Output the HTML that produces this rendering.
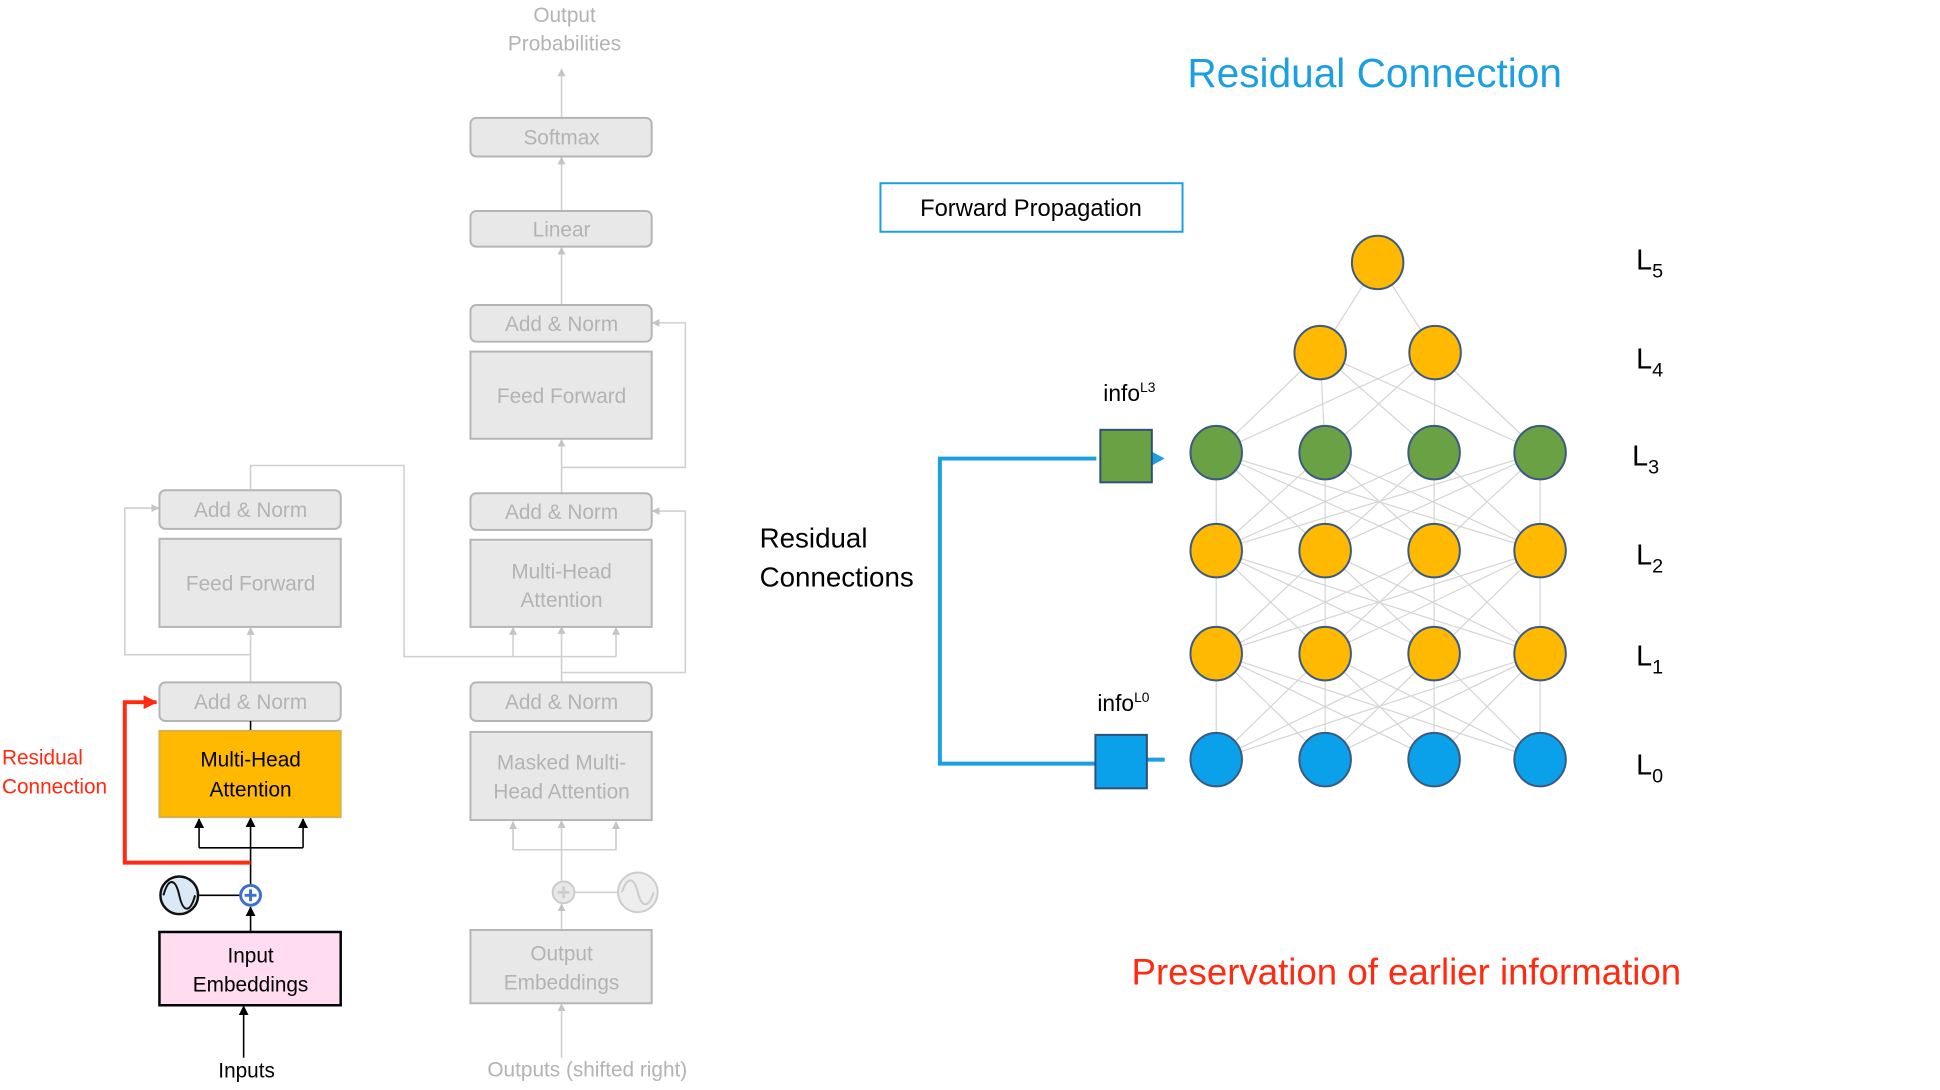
<!DOCTYPE html>
<html><head><meta charset="utf-8"><style>
html,body{margin:0;padding:0;background:#fff;width:1940px;height:1090px;overflow:hidden}
svg{display:block}
text{font-family:"Liberation Sans",sans-serif}
</style></head><body>
<svg id="s" width="1940" height="1090" viewBox="0 0 1940 1090" xmlns="http://www.w3.org/2000/svg">
<defs>
<marker id="ga" markerWidth="8" markerHeight="8" refX="7" refY="4" orient="auto" markerUnits="userSpaceOnUse"><path d="M0,0 L8,4 L0,8 z" fill="#c4c4c4"/></marker>
<marker id="ka" markerWidth="10" markerHeight="10" refX="9" refY="5" orient="auto" markerUnits="userSpaceOnUse"><path d="M0,0 L10,5 L0,10 z" fill="#000"/></marker>
<marker id="ra" markerWidth="14" markerHeight="14" refX="13" refY="7" orient="auto" markerUnits="userSpaceOnUse"><path d="M0,0 L14,7 L0,14 z" fill="#ff2a10"/></marker>
</defs>
<g transform="scale(0.9904)">
<g id="net" stroke="#d4d4d4" stroke-width="1.2"></g>

<g fill="none" stroke="#d0d0d0" stroke-width="1.6">
<line x1="567" y1="119" x2="567" y2="70" marker-end="url(#ga)"/>
<line x1="567" y1="213" x2="567" y2="159" marker-end="url(#ga)"/>
<line x1="567" y1="308" x2="567" y2="250" marker-end="url(#ga)"/>
<line x1="567" y1="498" x2="567" y2="444" marker-end="url(#ga)"/>
<polyline points="567,472 692,472 692,326 659,326" marker-end="url(#ga)"/>
<polyline points="567,679 692,679 692,516 659,516" marker-end="url(#ga)"/>
<line x1="567" y1="689" x2="567" y2="633" marker-end="url(#ga)"/>
<polyline points="253,495 253,470 408,470 408,663 622,663"/>
<line x1="518" y1="663" x2="518" y2="634" marker-end="url(#ga)"/>
<line x1="622" y1="663" x2="622" y2="634" marker-end="url(#ga)"/>
<line x1="253" y1="689" x2="253" y2="634" marker-end="url(#ga)"/>
<polyline points="253,661 126,661 126,513 160,513" marker-end="url(#ga)"/>
<line x1="567" y1="939" x2="567" y2="913" marker-end="url(#ga)"/>
<line x1="567" y1="890" x2="567" y2="829" marker-end="url(#ga)"/>
<polyline points="518,838 518,858 622,858 622,838"/>
<line x1="518" y1="858" x2="518" y2="830" marker-end="url(#ga)"/>
<line x1="622" y1="858" x2="622" y2="830" marker-end="url(#ga)"/>
<line x1="580" y1="901" x2="624" y2="901"/>
<line x1="567" y1="1068" x2="567" y2="1014" marker-end="url(#ga)"/>
</g>

<g fill="#e8e8e8" stroke="#b5b5b5" stroke-width="2">
<rect x="475" y="119" width="183" height="39" rx="6"/>
<rect x="475" y="213" width="183" height="36" rx="6"/>
<rect x="475" y="308" width="183" height="37" rx="6"/>
<rect x="475" y="355" width="183" height="88"/>
<rect x="475" y="498" width="183" height="37" rx="6"/>
<rect x="475" y="545" width="183" height="88"/>
<rect x="475" y="689" width="183" height="39" rx="6"/>
<rect x="475" y="739" width="183" height="89"/>
<rect x="475" y="939" width="183" height="74"/>
<rect x="161" y="495" width="183" height="39" rx="6"/>
<rect x="161" y="544" width="183" height="89"/>
<rect x="161" y="689" width="183" height="39" rx="6"/>
</g>
<g fill="#b3b3b3" font-size="21" text-anchor="middle">
<text x="570" y="22">Output</text><text x="570" y="51">Probabilities</text>
<text x="567" y="146">Softmax</text>
<text x="567" y="239">Linear</text>
<text x="567" y="334">Add &amp; Norm</text>
<text x="567" y="407">Feed Forward</text>
<text x="567" y="524">Add &amp; Norm</text>
<text x="567" y="584">Multi-Head</text><text x="567" y="613">Attention</text>
<text x="567" y="716">Add &amp; Norm</text>
<text x="567" y="777">Masked Multi-</text><text x="567" y="806">Head Attention</text>
<text x="567" y="970">Output</text><text x="567" y="999">Embeddings</text>
<text x="593" y="1087">Outputs (shifted right)</text>
<text x="253" y="522">Add &amp; Norm</text>
<text x="253" y="596">Feed Forward</text>
<text x="253" y="716">Add &amp; Norm</text>
</g>
<circle cx="569" cy="901" r="11" fill="#e8e8e8" stroke="#ccc" stroke-width="2"/>
<path d="M563,901h12M569,895v12" stroke="#ccc" stroke-width="2.5"/>
<circle cx="644" cy="901" r="20" fill="#eee" stroke="#ccc" stroke-width="2"/>
<path d="M628,901 C633,885 640,885 644,901 C648,917 655,917 660,901" fill="none" stroke="#ccc" stroke-width="2"/>

<g stroke="#000" stroke-width="1.6" fill="none">
<line x1="253" y1="728" x2="253" y2="738"/>
<line x1="253" y1="893" x2="253" y2="826" marker-end="url(#ka)"/>
<polyline points="201,856 201,827" marker-end="url(#ka)"/>
<polyline points="306,856 306,827" marker-end="url(#ka)"/>
<line x1="201" y1="856" x2="306" y2="856"/>
<line x1="201" y1="904" x2="242" y2="904"/>
<line x1="253" y1="941" x2="253" y2="916" marker-end="url(#ka)"/>
<line x1="246" y1="1068" x2="246" y2="1016" marker-end="url(#ka)"/>
</g>
<rect x="161" y="738" width="183" height="87" fill="#ffb900" stroke="#d9b04a" stroke-width="2"/>
<text x="253" y="774" font-size="21" text-anchor="middle" fill="#000">Multi-Head</text>
<text x="253" y="804" font-size="21" text-anchor="middle" fill="#000">Attention</text>
<rect x="161" y="941" width="183" height="74" fill="#ffdcf0" stroke="#000" stroke-width="2.5"/>
<text x="253" y="972" font-size="21" text-anchor="middle">Input</text>
<text x="253" y="1001" font-size="21" text-anchor="middle">Embeddings</text>
<text x="249" y="1088" font-size="21" text-anchor="middle">Inputs</text>
<circle cx="181" cy="904" r="19" fill="#dbe9f7" stroke="#111" stroke-width="2.5"/>
<path d="M165,904 C170,886 177,886 181,904 C185,922 192,922 197,904" fill="none" stroke="#111" stroke-width="2"/>
<circle cx="253" cy="904" r="10" fill="#fff" stroke="#3c6fcf" stroke-width="3"/>
<path d="M247,904h12M253,898v12" stroke="#3c6fcf" stroke-width="3"/>
<polyline points="253,871 126,871 126,709 158,709" fill="none" stroke="#ff2a10" stroke-width="4" marker-end="url(#ra)"/>
<text x="2" y="772" font-size="21" fill="#ff2a10">Residual</text>
<text x="2" y="801" font-size="21" fill="#ff2a10">Connection</text>

<text x="1388" y="88" font-size="41" fill="#1a9fe3" text-anchor="middle">Residual Connection</text>
<rect x="889" y="185" width="305" height="49" fill="#fff" stroke="#1a9fe3" stroke-width="2"/>
<text x="1041" y="218" font-size="24" text-anchor="middle">Forward Propagation</text>
<text x="767" y="553" font-size="28">Residual</text>
<text x="767" y="592" font-size="28">Connections</text>
<polyline points="1107,463 949,463 949,771 1106,771" fill="none" stroke="#1a9fe3" stroke-width="4"/>
<line x1="1158" y1="767" x2="1176" y2="767" stroke="#1a9fe3" stroke-width="4"/>
<path d="M1163,456 L1176,463 L1163,470 z" fill="#1a9fe3"/>
<rect x="1111" y="434" width="52" height="53" fill="#6aa145" stroke="#2f4f77" stroke-width="2"/>
<rect x="1106" y="742" width="52" height="54" fill="#0ba0ea" stroke="#2f4f77" stroke-width="2"/>
<text x="1114" y="405" font-size="23">info<tspan font-size="14" dy="-9">L3</tspan></text>
<text x="1108" y="718" font-size="23">info<tspan font-size="14" dy="-9">L0</tspan></text>
<g id="nodes"></g>
<g font-size="29" fill="#000">
<text x="1652" y="272">L<tspan font-size="20" dy="8">5</tspan></text>
<text x="1652" y="372">L<tspan font-size="20" dy="8">4</tspan></text>
<text x="1648" y="470">L<tspan font-size="20" dy="8">3</tspan></text>
<text x="1652" y="570">L<tspan font-size="20" dy="8">2</tspan></text>
<text x="1652" y="672">L<tspan font-size="20" dy="8">1</tspan></text>
<text x="1652" y="782">L<tspan font-size="20" dy="8">0</tspan></text>
</g>
<text x="1420" y="994" font-size="37" fill="#ff2a10" text-anchor="middle">Preservation of earlier information</text>
</g>
</svg>
<script>
var NS="http://www.w3.org/2000/svg";
var xs=[1228,1338,1448,1555];
var rows=[
 {y:265,x:[1391],c:"#ffb900"},
 {y:356,x:[1333,1449],c:"#ffb900"},
 {y:457,x:xs,c:"#6aa145"},
 {y:556,x:xs,c:"#ffb900"},
 {y:660,x:xs,c:"#ffb900"},
 {y:767,x:xs,c:"#0ba0ea"}];
var net=document.getElementById("net"),nodes=document.getElementById("nodes");
for(var i=0;i<rows.length-1;i++){var a=rows[i],b=rows[i+1];
 a.x.forEach(function(x1){b.x.forEach(function(x2){var l=document.createElementNS(NS,"line");
 l.setAttribute("x1",x1);l.setAttribute("y1",a.y);l.setAttribute("x2",x2);l.setAttribute("y2",b.y);net.appendChild(l);});});}
rows.forEach(function(r){r.x.forEach(function(x){var e=document.createElementNS(NS,"ellipse");
 e.setAttribute("cx",x);e.setAttribute("cy",r.y);e.setAttribute("rx",26);e.setAttribute("ry",27);
 e.setAttribute("fill",r.c);e.setAttribute("stroke","#3a5a80");e.setAttribute("stroke-width","2");nodes.appendChild(e);});});
</script>
</body></html>
